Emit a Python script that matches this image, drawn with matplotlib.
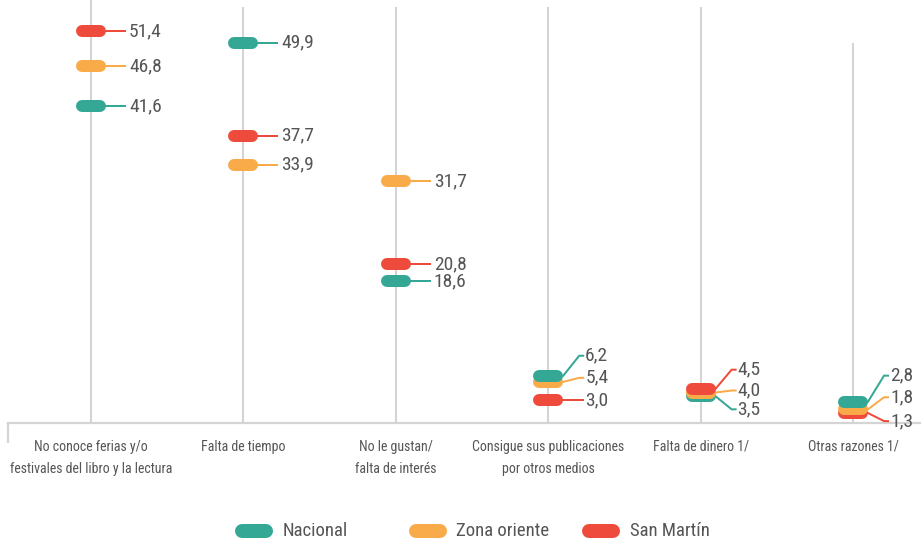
import matplotlib
matplotlib.use("Agg")
import matplotlib.pyplot as plt
from matplotlib import font_manager
from matplotlib.lines import Line2D
from matplotlib.transforms import IdentityTransform

# ---------------- data ----------------
categories = [
    "No conoce ferias y/o\nfestivales del libro y la lectura",
    "Falta de tiempo",
    "No le gustan/\nfalta de interés",
    "Consigue sus publicaciones\npor otros medios",
    "Falta de dinero 1/",
    "Otras razones 1/",
]
series_names = ["Nacional", "Zona oriente", "San Martín"]
nacional = [41.6, 49.9, 18.6, 6.2, 3.5, 2.8]
zona_oriente = [46.8, 33.9, 31.7, 5.4, 4.0, 1.8]
san_martin = [51.4, 37.7, 20.8, 3.0, 4.5, 1.3]

# ---------------- style ----------------
colors = ["#35a895", "#f9ab4a", "#ef4b3c"]
grid_color = "#d4d4d4"
text_color = "#555555"
line_tops = [55.5, 54.6, 54.6, 54.6, 54.6, 49.8]
# vertical label shift (image pixels, down positive) for crowded categories
label_dy = {
    (3, 0): -20, (3, 1): -4, (3, 2): 0,
    (4, 0): 13, (4, 1): -2, (4, 2): -19,
    (5, 0): -26, (5, 1): -12, (5, 2): 8,
}

avail = {f.name for f in font_manager.fontManager.ttflist}
FONT = "DejaVu Sans"
for cand in ["Roboto Condensed", "Liberation Sans Narrow", "Open Sans Condensed"]:
    if cand in avail:
        FONT = cand
        break
plt.rcParams["font.family"] = [FONT, "DejaVu Sans"]
if FONT == "DejaVu Sans":
    plt.rcParams["font.stretch"] = "condensed"

W, H = 921, 545
fig = plt.figure(figsize=(W / 100, H / 100), dpi=100)
ax = fig.add_axes([8 / W, 122 / H, 913 / W, 423 / H])
ax.set_ylim(0, 55.5)
ax.set_xlim(-0.5446, 5.446)
ax.set_autoscale_on(False)

for s in ["top", "right", "left"]:
    ax.spines[s].set_visible(False)
ax.spines["bottom"].set_color(grid_color)
ax.spines["bottom"].set_linewidth(1.6)
ax.set_yticks([])
x = list(range(len(categories)))
ax.set_xticks(x)
ax.set_xticklabels(categories, fontsize=10, color=text_color, linespacing=1.8)
ax.tick_params(axis="x", length=0, pad=12)

ax.vlines(x, 0, line_tops, color=grid_color, lw=1.5, zorder=1)
# left end tick
ax.plot([ax.get_xlim()[0]] * 2, [0, -2.6], color=grid_color, lw=1.6,
        clip_on=False, solid_capstyle="butt")

series = [nacional, zona_oriente, san_martin]
ID = IdentityTransform()
PILL_LW = 12 * 72 / 100
LEAD_LW = 2 * 72 / 100

z = 5
for i in x:
    entries = sorted([(series[k][i], k) for k in range(3)])
    for v, k in entries:
        cx, cy = ax.transData.transform((i, v))
        col = colors[k]
        if (i, k) in label_dy:
            ly = cy - label_dy[(i, k)]
            xs = [cx + 15, cx + 31, cx + 35]
            ys = [cy, ly, ly]
            tx = cx + 37
        else:
            ly = cy
            xs = [cx + 15, cx + 34]
            ys = [cy, cy]
            tx = cx + 38
        fig.add_artist(Line2D(xs, ys, color=col, lw=LEAD_LW, transform=ID,
                              zorder=z, solid_joinstyle="miter"))
        fig.add_artist(Line2D([cx - 9, cx + 9], [cy, cy], color=col, lw=PILL_LW,
                              solid_capstyle="round", transform=ID, zorder=z + 1))
        fig.text(tx, ly, f"{v:.1f}".replace(".", ","), transform=ID,
                 fontsize=14, color=text_color, ha="left", va="center", zorder=z + 2)
        z += 3

# legend
for k, name in enumerate(series_names):
    left = 235 + 173.5 * k
    yy = H - 531
    fig.add_artist(Line2D([left + 7, left + 31], [yy, yy], color=colors[k],
                          lw=14 * 72 / 100, solid_capstyle="round", transform=ID))
    fig.text(left + 48, yy, name, transform=ID, fontsize=13.5, color=text_color,
             ha="left", va="center")

fig.savefig("out.png", dpi=100)
